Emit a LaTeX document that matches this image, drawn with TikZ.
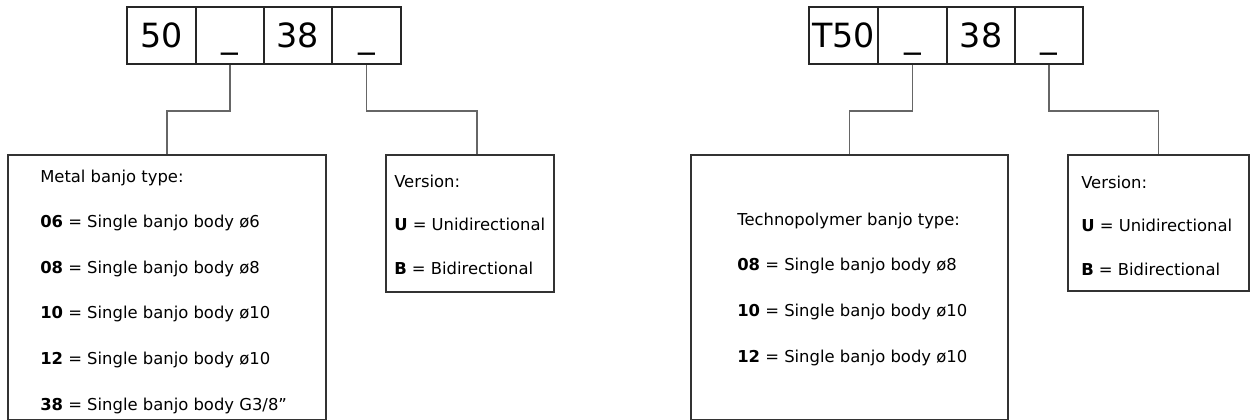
\documentclass[tikz,border=0pt]{standalone}
\usepackage{fontspec}
\setmainfont{DejaVu Sans}
\usetikzlibrary{calc}

\begin{document}
\begin{tikzpicture}
	[x=0.75pt,y=-0.75pt,
	cell/.style={draw=black!85,line width=1.5pt,inner sep=0pt,minimum height=42.75pt,
		text height=18.5pt,text depth=0pt,font=\fontsize{25}{25}\selectfont},
	infobox/.style={draw=black!80,line width=1.1pt,inner sep=0pt},
	item/.style={anchor=base west,inner sep=0pt,font=\fontsize{12.3}{15}\selectfont},
	link/.style={-,draw=black!60,line width=0.9pt}]
	\useasboundingbox (0,0) rectangle (1250,419);
	
	% metal code
	\node[cell,minimum width=51.75pt] (l1) at (161.5,35.5) {50};
	\node[cell,minimum width=51pt] (l2) at (230,35.5) {\_};
	\node[cell,minimum width=51pt] (l3) at (298,35.5) {38};
	\node[cell,minimum width=51.75pt] (l4) at (366.5,35.5) {\_};
	
	% technopolymer code
	\node[cell,minimum width=51.75pt] (r1) at (843.5,35.5) {T50};
	\node[cell,minimum width=51.75pt] (r2) at (912.5,35.5) {\_};
	\node[cell,minimum width=51pt] (r3) at (981,35.5) {38};
	\node[cell,minimum width=51pt] (r4) at (1049,35.5) {\_};
	
	% boxes
	\node[infobox,minimum width=238.5pt,minimum height=198.75pt] (metal) at (167,287.5) {};
	\node[infobox,minimum width=126pt,minimum height=102.75pt] (lver) at (470,223.5) {};
	\node[infobox,minimum width=237.75pt,minimum height=198.75pt] (techno) at (849.5,287.5) {};
	\node[infobox,minimum width=135.75pt,minimum height=102pt] (rver) at (1158.5,223) {};
	
	\draw[link] (l2.south) -- ++(0,46) -| (metal.north);
	\draw[link] (l4.south) -- ++(0,46) -| ([xshift=5.25pt]lver.north);
	\draw[link] (r2.south) -- ++(0,46) -| (techno.north);
	\draw[link] (r4.south) -- ++(0,46) -| (rver.north);
	
	% texts
	\node[item] (mhead) at (40,182) {Metal banjo type:};
	\foreach \code/\size [count=\i] in {06/ø6,08/ø8,10/ø10,12/ø10,38/{G3/8”}}
	{
		\node[item] (m\i) at (40,182+45.6*\i) {\textbf{\code} = Single banjo body \size};
	}
	
	\node[item] (thead) at (737,225) {Technopolymer banjo type:};
	\foreach \code/\size [count=\i] in {08/ø8,10/ø10,12/ø10}
	{
		\node[item] (t\i) at (737,225+45.7*\i) {\textbf{\code} = Single banjo body \size};
	}
	
	\foreach \x/\y/\side in {394/187/l,1081/188/r}
	{
		\node[item] (\side vhead) at (\x,\y) {Version:};
		\node[item] (\side vu) at (\x,\y+43.5) {\textbf{U} = Unidirectional};
		\node[item] (\side vb) at (\x,\y+87) {\textbf{B} = Bidirectional};
	}
\end{tikzpicture}
\end{document}
